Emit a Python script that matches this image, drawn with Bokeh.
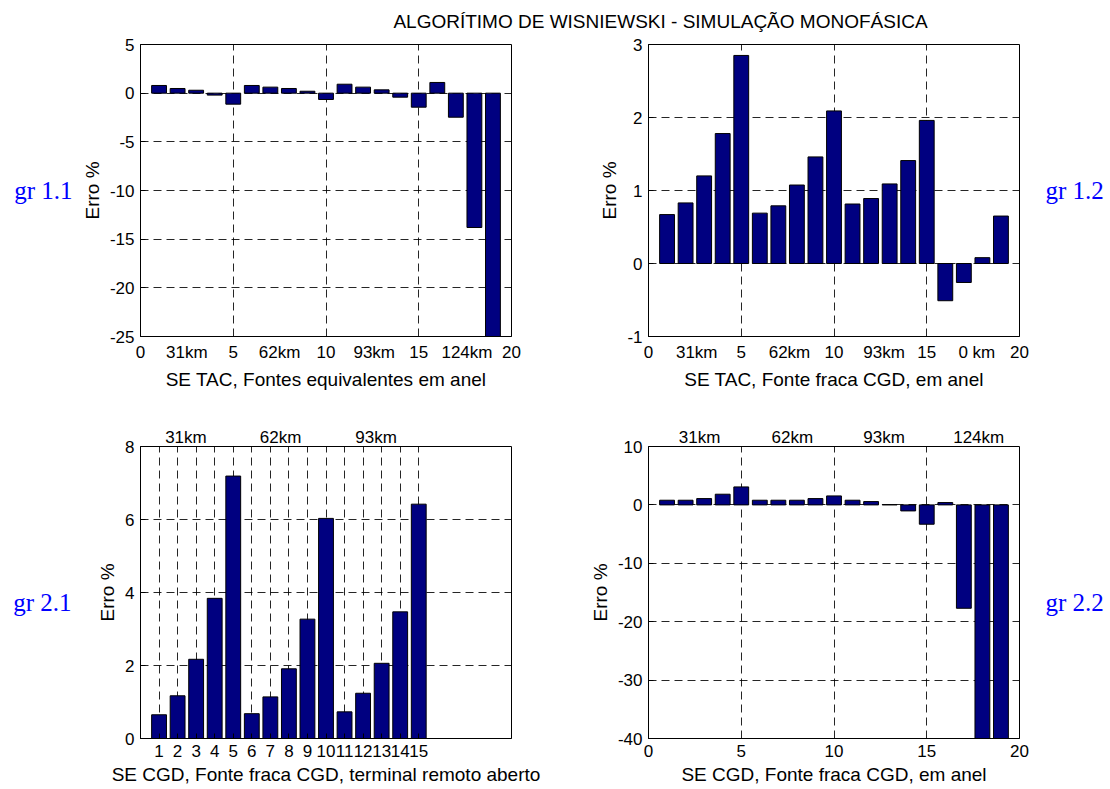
from bokeh.plotting import figure
from bokeh.layouts import column, row
from bokeh.models import Range1d, FixedTicker, LinearAxis, Label
from bokeh.embed import file_html
from bokeh.resources import INLINE

TITLE = "ALGORÍTIMO DE WISNIEWSKI - SIMULAÇÃO MONOFÁSICA"
Y_LABEL = "Erro %"

# ---- gr 1.1 : SE TAC, Fontes equivalentes em anel
g11_x = list(range(1, 20))
g11_err = [0.79, 0.48, 0.30, -0.20, -1.13, 0.79, 0.62, 0.48, 0.20, -0.65,
           0.92, 0.62, 0.34, -0.41, -1.44, 1.10, -2.47, -13.8, -30.0]
g11_yticks = [-25, -20, -15, -10, -5, 0, 5]
g11_xticks = [0, 2.5, 5, 7.5, 10, 12.6, 15, 17.6, 20]
g11_xlabels = ["0", "31km", "5", "62km", "10", "93km", "15", "124km", "20"]

# ---- gr 1.2 : SE TAC, Fonte fraca CGD, em anel
g12_x = list(range(1, 20))
g12_err = [0.67, 0.83, 1.20, 1.78, 2.85, 0.69, 0.79, 1.075, 1.46, 2.09,
           0.815, 0.89, 1.09, 1.41, 1.96, -0.51, -0.26, 0.08, 0.65]
g12_yticks = [-1, 0, 1, 2, 3]
g12_xticks = [0, 2.6, 5, 7.6, 10, 12.7, 15, 17.7, 20]
g12_xlabels = ["0", "31km", "5", "62km", "10", "93km", "15", "0 km", "20"]

# ---- gr 2.1 : SE CGD, Fonte fraca CGD, terminal remoto aberto
g21_x = list(range(1, 16))
g21_err = [0.65, 1.17, 2.17, 3.84, 7.19, 0.68, 1.14, 1.91, 3.27, 6.03,
           0.73, 1.24, 2.06, 3.47, 6.42]
g21_yticks = [0, 2, 4, 6, 8]
g21_xticks = list(range(1, 16))
g21_xlabels = [str(i) for i in g21_xticks]
g21_top_ticks = [2.45, 7.55, 12.7]
g21_top_labels = ["31km", "62km", "93km"]

# ---- gr 2.2 : SE CGD, Fonte fraca CGD, em anel
g22_x = list(range(1, 20))
g22_err = [0.80, 0.80, 1.08, 1.83, 3.08, 0.80, 0.80, 0.80, 1.08, 1.54,
           0.80, 0.57, 0.05, -1.03, -3.31, 0.40, -17.7, -45.0, -45.0]
g22_yticks = [-40, -30, -20, -10, 0, 10]
g22_xticks = [0, 5, 10, 15, 20]
g22_xlabels = ["0", "5", "10", "15", "20"]
g22_top_ticks = [2.75, 7.75, 12.7, 17.8]
g22_top_labels = ["31km", "62km", "93km", "124km"]

FONT = "Liberation Sans"
BAR_FILL = "#000080"
GR_COLOR = "#0000ff"

TITLE_H = 34
ROW1_H = 361
ROW2_H = 394
LEFT_W = 580
RIGHT_W = 530


def style_axis(ax):
    ax.major_label_text_font = FONT
    ax.major_label_text_font_size = "17px"
    ax.major_label_text_color = "black"
    ax.axis_label_text_font = FONT
    ax.axis_label_text_font_size = "19px"
    ax.axis_label_text_font_style = "normal"
    ax.axis_label_text_color = "black"
    ax.major_tick_in = 5
    ax.major_tick_out = 0
    ax.major_tick_line_color = "black"
    ax.minor_tick_line_color = None
    ax.axis_line_color = "black"
    ax.major_label_standoff = 6
    ax.axis_label_standoff = 4


def add_gr_axis(p, side, text, standoff, shift_down=False):
    label = ("\n" + text) if shift_down else text
    ax = LinearAxis(ticker=FixedTicker(ticks=[]), axis_label=label)
    ax.axis_line_color = None
    ax.major_tick_line_color = None
    ax.minor_tick_line_color = None
    ax.major_tick_in = 0
    ax.major_tick_out = 0
    ax.axis_label_orientation = "horizontal"
    ax.axis_label_text_font = "Liberation Serif"
    ax.axis_label_text_font_size = "25px"
    ax.axis_label_text_font_style = "normal"
    ax.axis_label_text_color = GR_COLOR
    ax.axis_label_standoff = standoff
    if shift_down:
        ax.axis_label_text_line_height = 0.72
    p.add_layout(ax, side)


def make_panel(w, h, borders, yr, yticks, xticks, xlabels, xgrid, xs, vals, xlabel,
               top_ticks=None, top_labels=None):
    lb, rb, tb, bb = borders
    p = figure(width=w, height=h, x_range=Range1d(0, 20), y_range=Range1d(*yr),
               output_backend="svg", toolbar_location=None, title=None,
               min_border_left=lb, min_border_right=rb,
               min_border_top=tb, min_border_bottom=bb)
    p.background_fill_color = "white"
    p.border_fill_color = "white"
    p.outline_line_color = "black"
    p.outline_line_width = 1
    p.outline_line_alpha = 1

    p.vbar(x=xs, top=vals, bottom=0, width=0.8, fill_color=BAR_FILL,
           line_color="black", line_width=1)

    for ax in p.axis:
        style_axis(ax)
    p.yaxis.ticker = FixedTicker(ticks=yticks)
    p.yaxis.major_label_overrides = {float(t): str(t) for t in yticks}
    p.yaxis.axis_label = Y_LABEL
    p.xaxis.ticker = FixedTicker(ticks=xticks)
    p.xaxis.major_label_overrides = {float(t): l for t, l in zip(xticks, xlabels)}
    p.xaxis.axis_label = xlabel
    if len(xticks) != len(xgrid):
        p.xaxis.major_tick_line_color = None

    p.xgrid.ticker = FixedTicker(ticks=xgrid)
    p.ygrid.ticker = FixedTicker(ticks=yticks)
    for g in (p.xgrid, p.ygrid):
        g.grid_line_color = "black"
        g.grid_line_dash = "8 5"
        g.grid_line_width = 1
        g.grid_line_alpha = 0.85

    if top_ticks is not None:
        top = LinearAxis(ticker=FixedTicker(ticks=top_ticks),
                         major_label_overrides={float(t): l for t, l in zip(top_ticks, top_labels)})
        style_axis(top)
        top.axis_line_color = None
        top.major_tick_line_color = None
        top.major_label_standoff = 0
        p.add_layout(top, "above")
    return p


# global frame boxes (left, top, right, bottom) in page pixels
F11 = (140, 44, 511, 336)
F12 = (648, 44, 1019, 336)
F21 = (140, 446, 511, 738)
F22 = (648, 446, 1019, 738)

yr11 = (-25, 5)
yr12 = (-1, 3)
yr21 = (0, 8)
yr22 = (-40, 10)

R1 = TITLE_H
R2 = TITLE_H + ROW1_H
p11 = make_panel(LEFT_W, ROW1_H, (F11[0], LEFT_W - F11[2], F11[1] - R1, R2 - F11[3]),
                 yr11, g11_yticks, g11_xticks, g11_xlabels, [5, 10, 15], g11_x, g11_err,
                 "SE TAC, Fontes equivalentes em anel")
p12 = make_panel(RIGHT_W, ROW1_H, (F12[0] - LEFT_W, LEFT_W + RIGHT_W - F12[2], F12[1] - R1, R2 - F12[3]),
                 yr12, g12_yticks, g12_xticks, g12_xlabels, [5, 10, 15], g12_x, g12_err,
                 "SE TAC, Fonte fraca CGD, em anel")
p21 = make_panel(LEFT_W, ROW2_H, (F21[0], LEFT_W - F21[2], F21[1] - R2, R2 + ROW2_H - F21[3]),
                 yr21, g21_yticks, g21_xticks, g21_xlabels, g21_xticks, g21_x, g21_err,
                 "SE CGD, Fonte fraca CGD, terminal remoto aberto",
                 g21_top_ticks, g21_top_labels)
p22 = make_panel(RIGHT_W, ROW2_H, (F22[0] - LEFT_W, LEFT_W + RIGHT_W - F22[2], F22[1] - R2, R2 + ROW2_H - F22[3]),
                 yr22, g22_yticks, g22_xticks, g22_xlabels, [5, 10, 15], g22_x, g22_err,
                 "SE CGD, Fonte fraca CGD, em anel",
                 g22_top_ticks, g22_top_labels)

add_gr_axis(p11, "left", "gr 1.1", 6)
add_gr_axis(p12, "right", "gr 1.2", 26)
add_gr_axis(p21, "left", "gr 2.1", 23, shift_down=True)
add_gr_axis(p22, "right", "gr 2.2", 26, shift_down=True)

tfig = figure(width=LEFT_W + RIGHT_W, height=TITLE_H, x_range=Range1d(0, LEFT_W + RIGHT_W),
              y_range=Range1d(TITLE_H, 0), x_axis_type=None, y_axis_type=None,
              output_backend="svg", toolbar_location=None, title=None, min_border=0)
tfig.outline_line_color = None
tfig.add_layout(Label(x=660, y=21, text=TITLE, text_font=FONT, text_font_size="19px",
                      text_align="center", text_baseline="middle", text_color="black"))

layout = column(tfig, row(p11, p12), row(p21, p22))
open("out.html", "w").write(file_html(layout, INLINE))
